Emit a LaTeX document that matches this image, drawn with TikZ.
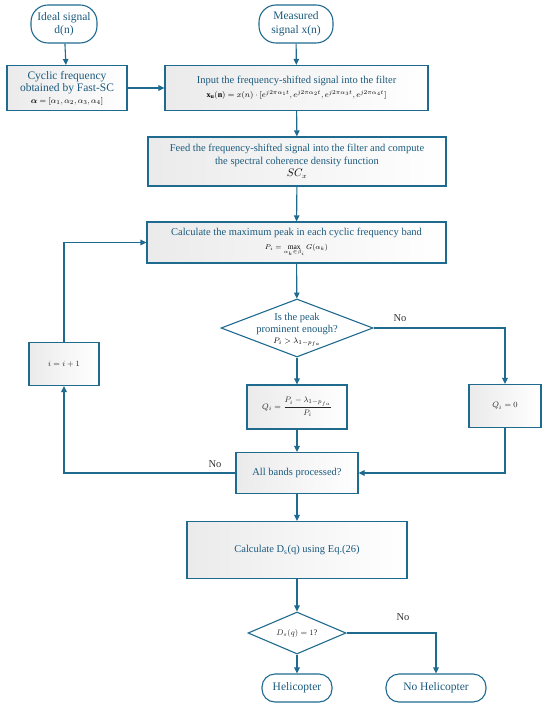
\documentclass[tikz,border=0pt]{standalone}
\usepackage{amsmath,bm}
\usepackage{fontspec}
\setmainfont{Liberation Serif}
\usetikzlibrary{shapes.geometric, arrows.meta, positioning, calc}
\definecolor{FlowLine}{HTML}{1F6A8F}
\definecolor{FlowText}{HTML}{1B5A7E}
\tikzset{
    % Box styles
    terminal/.style={
        rectangle,
        rounded corners=17pt,
        draw=FlowLine,
        fill=white,
        line width=1.1pt,
        text=FlowText,
        align=center,
        inner sep=1pt,
        font=\fontsize{11.5}{13.5}\selectfont
    },
    process/.style={
        rectangle,
        draw=FlowLine,
        left color=black!8,
        right color=white,
        line width=1.1pt,
        text=FlowText,
        align=center,
        inner sep=1pt,
        font=\fontsize{10.5}{12.5}\selectfont
    },
    decision/.style={
        diamond,
        draw=FlowLine,
        fill=white,
        line width=1.1pt,
        inner sep=0pt
    },
    mathtxt/.style={
        text=black!85,
        font=\fontsize{8.5}{9.5}\selectfont
    },
    notxt/.style={
        text=black!80,
        font=\fontsize{10.5}{12}\selectfont
    },
    % Arrow styles
    arrow/.style={
        -{Triangle[length=6pt,width=5.5pt]},
        line width=1.1pt,
        draw=FlowLine
    }
}

\begin{document}
\begin{tikzpicture}[x=1pt, y=-1pt]
    \useasboundingbox (0,0) rectangle (550,708);

    \node[terminal, minimum width=66pt, minimum height=38pt] (ideal) at (64,24) {Ideal signal\\d(n)};
    \node[terminal, minimum width=74pt, minimum height=38pt] (meas) at (296,24) {Measured\\signal x(n)};

    \node[process, minimum width=120pt, minimum height=45pt, font=\fontsize{11.5}{12.5}\selectfont] (cyc) at (67,88)
        {Cyclic frequency\\obtained by Fast-SC\\[-1pt]{\color{black}\fontsize{8}{9}\selectfont$\bm{\alpha}=[\alpha_1,\alpha_2,\alpha_3,\alpha_4]$}};
    \node[process, minimum width=263pt, minimum height=45pt] (input) at (296.5,88)
        {Input the frequency-shifted signal into the filter\\[1pt]{\color{black}\fontsize{8}{9}\selectfont$\mathbf{x_u(n)}=x(n)\cdot[e^{j2\pi\alpha_1 t},e^{j2\pi\alpha_2 t},e^{j2\pi\alpha_3 t},e^{j2\pi\alpha_4 t}]$}};
    \node[process, minimum width=298pt, minimum height=49pt] (feed) at (297,161.5)
        {Feed the frequency-shifted signal into the filter and compute\\the spectral coherence density function\\{\color{black}$SC_x$}};
    \node[process, minimum width=299pt, minimum height=41pt] (calc) at (296.5,242.5)
        {Calculate the maximum peak in each cyclic frequency band\\[1pt]{\color{black}\fontsize{7.5}{8.5}\selectfont$P_i=\max\limits_{\alpha_k\in\beta_i}G(\alpha_k)$}};

    \node[decision, minimum width=152pt, minimum height=58pt] (peak) at (297,328) {};
    \node[text=FlowText, align=center, font=\fontsize{10.5}{12.5}\selectfont] (peaktxt) at (297,330)
        {Is the peak\\prominent enough?\\[-2pt]{\color{black}\fontsize{8}{9}\selectfont$P_i>\lambda_{1-p_{fa}}$}};

    \node[process, minimum width=70pt, minimum height=43pt, mathtxt] (inc) at (64,364) {$i=i+1$};
    \node[process, minimum width=100pt, minimum height=44pt, mathtxt] (qi) at (297,407)
        {$Q_i=\dfrac{P_i-\lambda_{1-p_{fa}}}{P_i}$};
    \node[process, minimum width=72pt, minimum height=43pt, mathtxt] (qzero) at (505,406) {$Q_i=0$};
    \node[process, minimum width=122pt, minimum height=41pt] (bands) at (297,473) {All bands processed?};
    \node[process, minimum width=220pt, minimum height=57pt] (calcd) at (297,550)
        {Calculate D\textsubscript{s}(q) using Eq.(26)};

    \node[decision, minimum width=98pt, minimum height=42pt] (check) at (297,633) {};
    \node[mathtxt] (checktxt) at (297,633) {$D_s(q)=1$?};

    \node[terminal, rounded corners=13pt, minimum width=70pt, minimum height=28pt] (heli) at (297,688) {Helicopter};
    \node[terminal, rounded corners=13pt, minimum width=100pt, minimum height=28pt] (noheli) at (436,688) {No Helicopter};

    \draw[arrow] (ideal) -- (cyc);
    \draw[arrow] (meas) -- (input);
    \draw[arrow] (cyc) -- (input);
    \draw[arrow] (input) -- (feed);
    \draw[arrow] (feed) -- (calc);
    \draw[arrow] (calc) -- (peak);
    \draw[arrow] (peak) -- (qi);
    \draw[arrow] (qi) -- (bands);
    \draw[arrow] (peak.east) -| (qzero.north);
    \draw[arrow] (qzero.south) |- (bands.east);
    \draw[arrow] (bands.west) -| (inc.south);
    \draw[arrow] (inc.north) |- (calc.west);
    \draw[arrow] (bands) -- (calcd);
    \draw[arrow] (calcd) -- (check);
    \draw[arrow] (check) -- (heli);
    \draw[arrow] (check.east) -| (noheli.north);

    \node[notxt] (no1) at (400,318) {No};
    \node[notxt] (no2) at (215,464) {No};
    \node[notxt] (no3) at (403,617) {No};
\end{tikzpicture}
\end{document}
